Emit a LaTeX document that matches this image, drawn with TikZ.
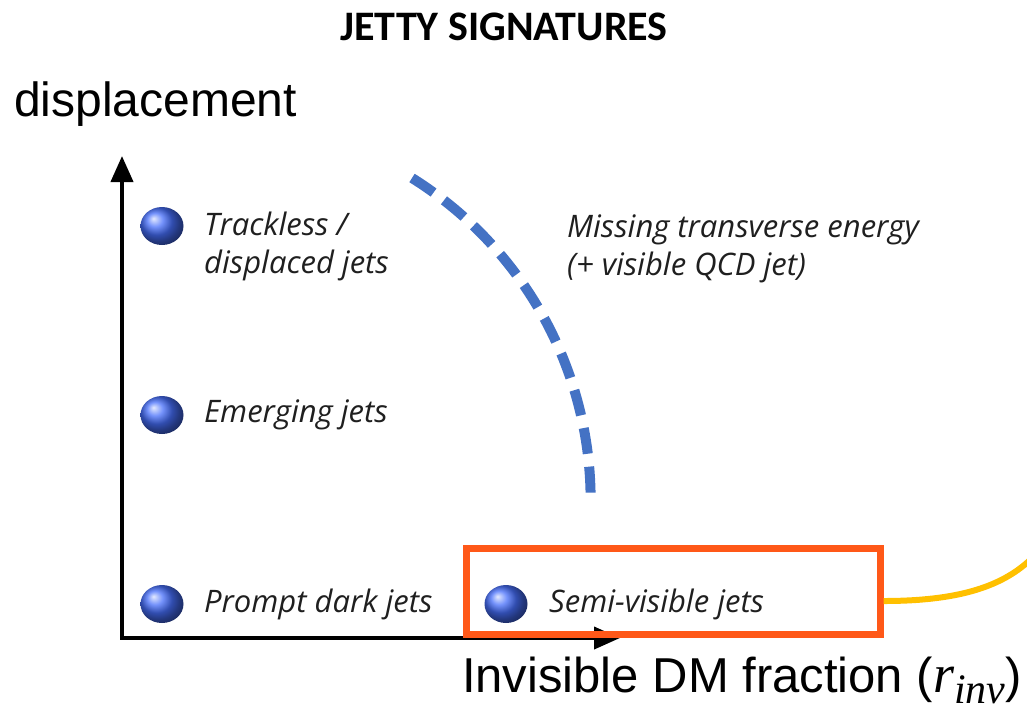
\documentclass[tikz,border=0pt]{standalone}
\usepackage{fontspec}
\setmainfont{Liberation Sans}
\newfontfamily\titlefont{Carlito}
\newfontfamily\labelfont{Open Sans}
\newfontfamily\mathserif{Liberation Serif}
\usetikzlibrary{arrows.meta,shapes.geometric}
\definecolor{arcblue}{RGB}{68,114,196}
\definecolor{boxorange}{RGB}{255,88,24}
\definecolor{linkgold}{RGB}{255,192,0}
\definecolor{jetblue}{RGB}{70,110,250}
\tikzset{
  axis/.style={line width=4pt,-{Triangle[length=26pt,width=22pt]}},
  jetball/.style={ellipse,minimum width=43pt,minimum height=38pt,inner sep=0pt,
    shading=ball,ball color=jetblue},
  jetlabel/.style={anchor=west,inner sep=0pt,align=left,
    font=\labelfont\itshape\fontsize{31}{38}\selectfont,text=black!88},
}
\begin{document}
\begin{tikzpicture}[x=1pt,y=-1pt]
\useasboundingbox (0,0) rectangle (1027,716);
% title and axis names
\node[font=\titlefont\bfseries\fontsize{42}{44}\selectfont] (title) at (504,27) {JETTY SIGNATURES};
\node[anchor=west,inner sep=0pt,font=\fontsize{48}{50}\selectfont] (ylabel) at (14,104) {displacement};
\node[anchor=east,inner sep=0pt,font=\fontsize{49}{52}\selectfont] (xlabel) at (1022,680)
  {Invisible DM fraction ({\mathserif\itshape\fontsize{54}{54}\selectfont r\raisebox{-11pt}{\fontsize{42}{42}\selectfont inv}})};
% axes
\coordinate (origin) at (122,638);
\coordinate (ytip) at (122,156);
\coordinate (xtip) at (620,638);
\draw[axis] (origin) -- (ytip);
\draw[axis] ([xshift=-2pt]origin) -- (xtip);
% signatures
\node[jetball] (b1) at (162,226) {};
\node[jetball] (b2) at (162,415) {};
\node[jetball] (b3) at (162,604) {};
\node[jetball] (b4) at (506,604) {};
\node[jetlabel] (t1) at (204,246) {Trackless /\\displaced jets};
\node[jetlabel] (t2) at (204,415) {Emerging jets};
\node[jetlabel] (t3) at (204,604) {Prompt dark jets};
\node[jetlabel] (t4) at (549,604) {Semi-visible jets};
\node[jetlabel] (met) at (567,249) {Missing transverse energy\\(+ visible QCD jet)};
% boundary arc
\draw[arcblue,line width=10pt,dash pattern=on 26pt off 13pt] (412,178) arc[start angle=-58,end angle=0,radius=380];
% highlight box and link
\node[draw=boxorange,line width=7pt,minimum width=414pt,minimum height=86pt,inner sep=0pt] (hl) at (673,591) {};
\coordinate (off) at (1030,560);
\draw[linkgold,line width=6pt] ([yshift=-10pt]hl.east) .. controls (955,601) and (1000,588) .. (off);
\end{tikzpicture}
\end{document}
